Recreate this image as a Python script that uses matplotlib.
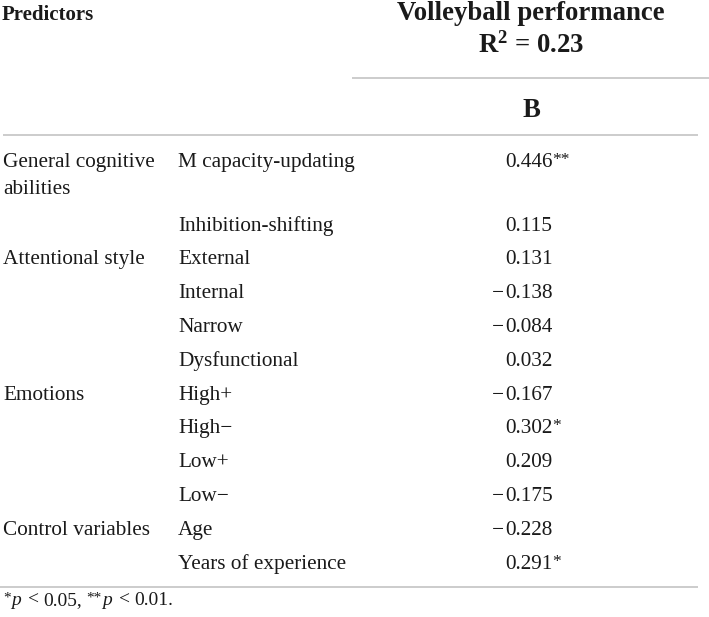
import matplotlib
matplotlib.use("Agg")
import matplotlib.pyplot as plt

# ---- data ----
groups = ["General cognitive\nabilities", "", "Attentional style", "", "", "",
          "Emotions", "", "", "", "Control variables", ""]
predictors = ["M capacity-updating", "Inhibition-shifting", "External", "Internal",
              "Narrow", "Dysfunctional", "High+", "High\u2212", "Low+", "Low\u2212",
              "Age", "Years of experience"]
coefs = [0.446, 0.115, 0.131, -0.138, -0.084, 0.032, -0.167, 0.302, 0.209,
         -0.175, -0.228, 0.291]
stars = ["**", "", "", "", "", "", "", "*", "", "", "", "*"]
header_left = "Predictors"
header_title = "Volleyball performance"
r2_value = 0.23
col_label = "B"
footnote_levels = [("*", "0.05"), ("**", "0.01")]

plt.rcParams["mathtext.fontset"] = "custom"
plt.rcParams["mathtext.rm"] = "Liberation Serif"
plt.rcParams["mathtext.it"] = "Liberation Serif:italic"
plt.rcParams["mathtext.bf"] = "Liberation Serif:bold"

W, H = 709, 617
fig = plt.figure(figsize=(W / 100, H / 100), dpi=100)
ax = fig.add_axes([0, 0, 1, 1])
ax.set_xlim(0, W)
ax.set_ylim(H, 0)
ax.axis("off")
renderer = fig.canvas.get_renderer()

FONT = "Liberation Serif"
TXT = "#1a1a1a"
LINE = "#c8c8c8"
body = 15.3
head = 19.3
star_size = 12.5
star_raise = 3.0


def runs(x, y, parts):
    """Draw text pieces left to right; parts = (text, size, style, dy, gap_after)."""
    for text, size, style, dy, gap in parts:
        t = ax.text(x, y - dy, text, fontsize=size, family=FONT, style=style,
                    color=TXT, va="baseline", ha="left")
        x += t.get_window_extent(renderer).width + gap
    return x


# header
ax.text(2, 19.5, header_left, fontsize=15, fontweight="bold", family=FONT,
        color=TXT, va="baseline", ha="left")
ax.text(531, 20.5, header_title, fontsize=head, fontweight="bold", family=FONT,
        color=TXT, va="baseline", ha="center")
ax.text(531, 52.5, r"$\mathbf{R^{2}}$ = %.2f" % r2_value, fontsize=head,
        fontweight="bold", family=FONT, color=TXT, va="baseline", ha="center")
ax.plot([352, 709], [78, 78], color=LINE, lw=1.3, solid_capstyle="butt")
ax.text(531, 117, col_label, fontsize=head, fontweight="bold", family=FONT,
        color=TXT, va="baseline", ha="center")
ax.plot([3, 698], [135, 135], color=LINE, lw=1.3, solid_capstyle="butt")

# body rows
x_group, x_pred, x_val = 3, 178, 505
line_gap = 27.5
row_gap = 33.8
y = 167
for g, p, c, s in zip(groups, predictors, coefs, stars):
    glines = g.split("\n") if g else []
    for i, gl in enumerate(glines):
        ax.text(x_group, y + i * line_gap, gl, fontsize=body, family=FONT,
                color=TXT, va="baseline", ha="left")
    ax.text(x_pred, y, p, fontsize=body, family=FONT, color=TXT,
            va="baseline", ha="left")
    parts = [("%.3f" % abs(c), body, "normal", 0, 0.0)]
    if s:
        parts.append((s, star_size, "normal", star_raise, 0))
    runs(x_val, y, parts)
    if c < 0:
        ax.text(x_val - 1.0, y, "\u2212", fontsize=body, family=FONT,
                color=TXT, va="baseline", ha="right")
    extra = max(len(glines) - 1, 0)
    y += row_gap + extra * (line_gap + 2.3)

ax.plot([0, 698], [587, 587], color=LINE, lw=1.3, solid_capstyle="butt")

fn = 14
parts = []
for i, (st, pv) in enumerate(footnote_levels):
    parts.append((st, 11, "normal", 3.0, 0.5))
    parts.append(("p", fn, "italic", 0, 7.0))
    parts.append(("<", fn, "normal", 0, 4.5))
    parts.append((pv + ("," if i < len(footnote_levels) - 1 else "."), fn,
                  "normal", 0, 4.5))
runs(3, 605, parts)

fig.savefig("out.png", dpi=100)
